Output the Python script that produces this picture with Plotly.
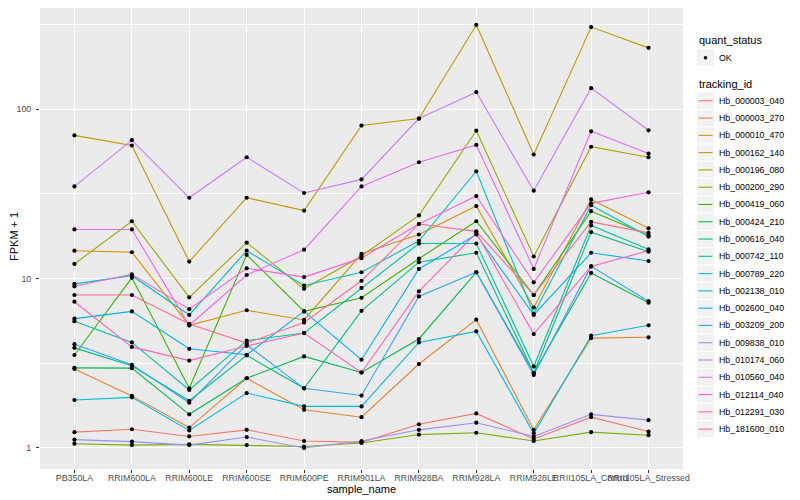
import plotly.graph_objects as go

samples = ["PB350LA", "RRIM600LA", "RRIM600LE", "RRIM600SE", "RRIM600PE", "RRIM901LA",
           "RRIM928BA", "RRIM928LA", "RRIM928LE", "RRII105LA_Control", "RRII105LA_Stressed"]

tracking_ids = ["Hb_000003_040", "Hb_000003_270", "Hb_000010_470", "Hb_000162_140",
                "Hb_000196_080", "Hb_000200_290", "Hb_000419_060", "Hb_000424_210",
                "Hb_000616_040", "Hb_000742_110", "Hb_000789_220", "Hb_002138_010",
                "Hb_002600_040", "Hb_003209_200", "Hb_009838_010", "Hb_010174_060",
                "Hb_010560_040", "Hb_012114_040", "Hb_012291_030", "Hb_181600_010"]

colors = ["#F8766D", "#EA8331", "#D89000", "#C09B00", "#A3A500", "#7CAE00", "#39B600",
          "#00BB4E", "#00BF7D", "#00C1A3", "#00BFC4", "#00BAE0", "#00B0F6", "#35A2FF",
          "#9590FF", "#C77CFF", "#E76BF3", "#FA62DB", "#FF62BC", "#FF6C91"]

# FPKM + 1 per sample (same order as samples)
hb_000003_040 = [1.24, 1.29, 1.17, 1.28, 1.10, 1.08, 1.38, 1.60, 1.13, 1.52, 1.25]
hb_000003_270 = [2.93, 2.03, 1.32, 2.58, 1.68, 1.52, 3.13, 5.72, 1.28, 4.45, 4.5]
hb_000010_470 = [14.6, 14.3, 5.3, 6.5, 5.7, 14.0, 18.2, 26.8, 6.75, 29.3, 19.8]
hb_000162_140 = [70, 61, 12.6, 30, 25.2, 80, 88, 314, 54, 305, 230]
hb_000196_080 = [12.2, 21.8, 7.75, 16.3, 8.7, 13.6, 23.6, 74.6, 13.5, 60, 52]
hb_000200_290 = [1.06, 1.04, 1.05, 1.04, 1.02, 1.07, 1.20, 1.23, 1.10, 1.24, 1.19]
hb_000419_060 = [3.54, 10.1, 2.25, 13.8, 6.4, 7.7, 13.1, 21.8, 8.0, 25.0, 18.0]
hb_000424_210 = [2.97, 2.96, 1.58, 2.58, 3.47, 2.79, 4.4, 10.9, 2.77, 10.8, 7.2]
hb_000616_040 = [3.9, 3.06, 1.9, 3.52, 2.25, 6.45, 12.5, 14.2, 2.77, 18.8, 14.4]
hb_000742_110 = [5.6, 4.2, 2.2, 4.3, 4.77, 8.8, 16.1, 16.1, 3.03, 20.6, 14.9]
hb_000789_220 = [9.3, 10.4, 6.1, 14.6, 9.1, 10.9, 16.7, 43, 6.2, 27.1, 17.7]
hb_002138_010 = [1.92, 1.99, 1.27, 2.11, 1.76, 1.76, 4.2, 4.88, 1.22, 4.6, 5.3]
hb_002600_040 = [5.8, 6.4, 3.85, 3.55, 6.4, 3.32, 11.4, 18.2, 6.1, 14.2, 12.7]
hb_003209_200 = [4.1, 3.10, 1.85, 4.07, 2.25, 2.04, 7.85, 10.9, 2.7, 11.8, 7.35]
hb_009838_010 = [1.12, 1.09, 1.04, 1.16, 1.00, 1.10, 1.28, 1.41, 1.17, 1.58, 1.46]
hb_010174_060 = [35, 65.6, 30, 52, 32, 38.5, 88, 126, 33, 133, 75]
hb_010560_040 = [19.5, 19.5, 5.3, 10.5, 14.8, 35, 48.6, 61.5, 11.4, 74, 54.7]
hb_012114_040 = [9.0, 10.6, 6.6, 11.5, 10.2, 13.2, 21, 30.7, 9.5, 27.8, 32.3]
hb_012291_030 = [7.3, 3.95, 3.28, 4.0, 4.77, 2.79, 8.4, 18.6, 4.7, 11.8, 14.6]
hb_181600_010 = [8.0, 8.0, 5.4, 4.16, 5.5, 9.7, 21, 19, 8.0, 21.6, 18.6]

series = [hb_000003_040, hb_000003_270, hb_000010_470, hb_000162_140, hb_000196_080,
          hb_000200_290, hb_000419_060, hb_000424_210, hb_000616_040, hb_000742_110,
          hb_000789_220, hb_002138_010, hb_002600_040, hb_003209_200, hb_009838_010,
          hb_010174_060, hb_010560_040, hb_012114_040, hb_012291_030, hb_181600_010]

y_ticks = [1, 10, 100]
y_tick_text = ["1", "10", "100"]
y_minor = [10 ** 0.5, 10 ** 1.5, 10 ** 2.5]

FONT = "Liberation Sans, Arial, Helvetica, sans-serif"
# the page body has an 8px margin, so the figure is sized to fit inside the window
W, H = 792, 492
L, R, T, B = 32, 117, 0, 31
OFF = 8  # page offset

fig = go.Figure()
for name, col, vals in zip(tracking_ids, colors, series):
    fig.add_trace(go.Scatter(x=samples, y=vals, mode="lines", name=name,
                             line=dict(color=col, width=1.1), showlegend=False,
                             hoverinfo="skip"))
for name, vals in zip(tracking_ids, series):
    fig.add_trace(go.Scatter(x=samples, y=vals, mode="markers", name=name,
                             marker=dict(color="black", size=4.2), showlegend=False))


# window pixel -> paper coordinates
def px(x):
    return (x - OFF - L) / (W - L - R)


def py(y):
    return (H - B - (y - OFF)) / (H - T - B)


shapes = []
annotations = []
kx0, kx1 = 697, 714
annotations.append(dict(x=px(697), y=py(40), xref="paper", yref="paper", text="quant_status",
                        showarrow=False, xanchor="left", yanchor="middle",
                        font=dict(family=FONT, size=11, color="black")))
shapes.append(dict(type="rect", xref="paper", yref="paper", x0=px(kx0), x1=px(kx1),
                   y0=py(49.5), y1=py(66), fillcolor="#F2F2F2", line=dict(width=0), layer="below"))
shapes.append(dict(type="circle", xref="paper", yref="paper", x0=px(703.7), x1=px(707.3),
                   y0=py(56), y1=py(59.6), fillcolor="black", line=dict(width=0)))
annotations.append(dict(x=px(716.5), y=py(57.8), xref="paper", yref="paper", text="OK",
                        showarrow=False, xanchor="left", yanchor="middle",
                        font=dict(family=FONT, size=8.8, color="black")))
annotations.append(dict(x=px(697), y=py(84), xref="paper", yref="paper", text="tracking_id",
                        showarrow=False, xanchor="left", yanchor="middle",
                        font=dict(family=FONT, size=11, color="black")))
y0 = 100.8
step = 17.28
for i, (name, col) in enumerate(zip(tracking_ids, colors)):
    yc = y0 + i * step
    shapes.append(dict(type="rect", xref="paper", yref="paper", x0=px(kx0), x1=px(kx1),
                       y0=py(yc - 8.1), y1=py(yc + 8.1), fillcolor="#F2F2F2",
                       line=dict(width=0), layer="below"))
    shapes.append(dict(type="line", xref="paper", yref="paper", x0=px(698.5), x1=px(712.5),
                       y0=py(yc), y1=py(yc), line=dict(color=col, width=1.1)))
    annotations.append(dict(x=px(716.5), y=py(yc), xref="paper", yref="paper", text=name,
                            showarrow=False, xanchor="left", yanchor="middle",
                            font=dict(family=FONT, size=8.8, color="black")))

# axis titles
annotations.append(dict(x=px(361.5), y=py(489), xref="paper", yref="paper", text="sample_name",
                        showarrow=False, xanchor="center", yanchor="middle",
                        font=dict(family=FONT, size=11, color="black")))
annotations.append(dict(x=px(14), y=py(237), xref="paper", yref="paper", text="FPKM + 1",
                        showarrow=False, xanchor="center", yanchor="middle", textangle=-90,
                        font=dict(family=FONT, size=11, color="black")))

fig.update_layout(
    width=W, height=H,
    margin=dict(l=L, r=R, t=T, b=B, pad=0),
    paper_bgcolor="white", plot_bgcolor="#EBEBEB",
    font=dict(family=FONT, size=11, color="black"),
    shapes=shapes, annotations=annotations,
    showlegend=False,
)
fig.update_xaxes(
    type="category", categoryorder="array", categoryarray=samples,
    range=[-0.6, len(samples) - 1 + 0.6],
    showgrid=True, gridcolor="white", gridwidth=1.1,
    ticks="outside", ticklen=3, tickcolor="#333333", tickwidth=1.1,
    tickangle=0, tickfont=dict(family=FONT, size=8.8, color="#4D4D4D"),
    ticklabelstandoff=-3,
    showline=False, zeroline=False,
    automargin=False,
)
fig.update_yaxes(
    type="log", range=[-0.124, 2.597],
    tickmode="array", tickvals=y_ticks, ticktext=y_tick_text,
    showgrid=True, gridcolor="white", gridwidth=1.1,
    minor=dict(tickmode="array", tickvals=y_minor, showgrid=True, gridcolor="white",
               gridwidth=0.6, ticks=""),
    ticks="outside", ticklen=3, tickcolor="#333333", tickwidth=1.1,
    tickfont=dict(family=FONT, size=8.8, color="#4D4D4D"),
    ticklabelstandoff=3,
    showline=False, zeroline=False,
    automargin=False,
)

fig.write_html("out.html")
